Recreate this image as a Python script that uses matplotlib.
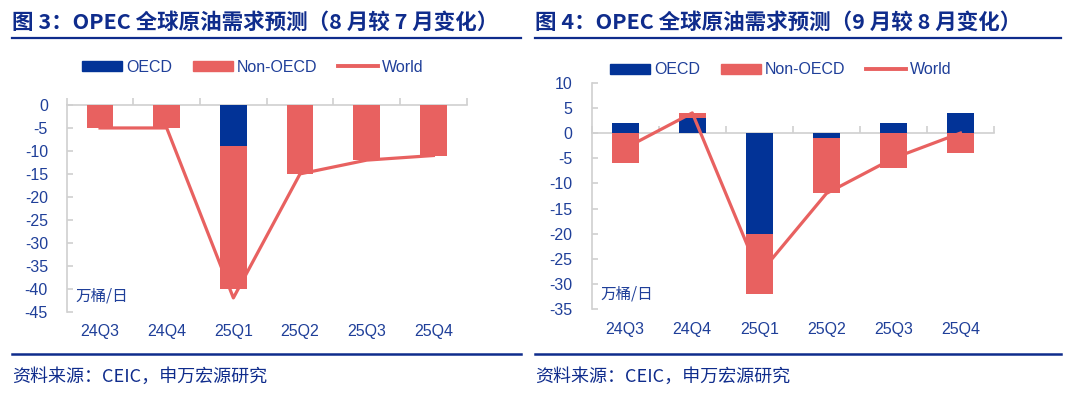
import numpy as np
import matplotlib
matplotlib.use("Agg")
import matplotlib.pyplot as plt
from matplotlib.patches import Patch
from matplotlib.lines import Line2D

plt.rcParams['font.family'] = ['Noto Sans CJK SC', 'DejaVu Sans']

categories = ["24Q3", "24Q4", "25Q1", "25Q2", "25Q3", "25Q4"]

# Figure 3: Aug vs Jul revision
oecd_3 = [0, 0, -9, 0, 0, 0]
non_oecd_3 = [-5, -5, -31, -15, -12, -11]
world_3 = [-5, -5, -42, -15, -12, -11]

# Figure 4: Sep vs Aug revision
oecd_4 = [2, 3, -20, -1, 2, 4]
non_oecd_4 = [-6, 1, -12, -11, -7, -4]
world_4 = [-3, 4, -28, -12, -5, 0]

title_3 = "图 3：OPEC 全球原油需求预测（8 月较 7 月变化）"
title_4 = "图 4：OPEC 全球原油需求预测（9 月较 8 月变化）"
source = "资料来源：CEIC，申万宏源研究"
unit = "万桶/日"

BLUE = "#023397"
RED = "#E86160"
TXT = "#1F3F99"
TITLE = "#0F2C8C"
GRAY = "#D0D0D0"
LATIN = 'Liberation Sans'

W, H = 1080, 398
fig = plt.figure(figsize=(W / 100, H / 100), dpi=100)


def ax_rect(l, t, r, b):
    return [l / W, 1 - b / H, (r - l) / W, (b - t) / H]


def draw(ax, oecd, non, world, ylim, yticks, xpad, ypad, unit_y):
    x = np.arange(len(categories))
    oecd = np.array(oecd, float)
    non = np.array(non, float)
    bottom_non = np.where(np.sign(non) == np.sign(oecd), oecd, 0.0)
    ax.bar(x, oecd, width=0.4, color=BLUE, zorder=2)
    ax.bar(x, non, width=0.4, bottom=bottom_non, color=RED, zorder=2)
    ax.plot(x, world, color=RED, lw=2.3, zorder=3)
    ax.set_xlim(-0.5, len(categories) - 0.5)
    ax.set_ylim(*ylim)
    ax.set_yticks(yticks)
    ax.set_yticklabels([str(v) for v in yticks])
    ax.set_xticks(x)
    ax.set_xticklabels(categories)
    for s in ['top', 'right', 'bottom']:
        ax.spines[s].set_visible(False)
    ax.spines['left'].set_color(GRAY)
    ax.spines['left'].set_linewidth(1.2)
    ax.tick_params(axis='x', length=0, pad=xpad, labelcolor=TXT,
                   labelsize=11.5, labelfontfamily=LATIN)
    ax.tick_params(axis='y', direction='in', length=4, width=1.2, color=GRAY,
                   pad=ypad, labelcolor=TXT, labelsize=11.5, labelfontfamily=LATIN)
    ax.axhline(0, color=GRAY, lw=1.2, zorder=1, clip_on=False)
    bounds = np.arange(len(categories) + 1) - 0.5
    ax.plot(bounds, np.zeros_like(bounds), ls='none', marker=2, ms=5,
            mew=1.2, color=GRAY, clip_on=False, zorder=1)
    ax.set_facecolor('none')
    ax.text(0.021, unit_y, unit, transform=ax.transAxes, color=TXT,
            fontsize=11.2, ha='left', va='center')


ax1 = fig.add_axes(ax_rect(66.7, 105, 466.7, 311.7))
draw(ax1, oecd_3, non_oecd_3, world_3, (-45, 0), list(range(0, -50, -5)),
     9.0, 13.5, 0.076)
ax2 = fig.add_axes(ax_rect(591.7, 82.7, 994, 309.3))
draw(ax2, oecd_4, non_oecd_4, world_4, (-35, 10), list(range(10, -40, -5)),
     9.3, 13.8, 0.066)

handles = [Patch(color=BLUE, label="OECD"), Patch(color=RED, label="Non-OECD"),
           Line2D([], [], color=RED, lw=2.8, label="World")]
for cx, cy in [(253, 67), (781, 70)]:
    fig.legend(handles=handles, loc='center', bbox_to_anchor=(cx / W, 1 - cy / H),
               ncol=3, frameon=False, handlelength=2.5, handleheight=0.55,
               handletextpad=0.25, columnspacing=1.3, labelcolor=TXT,
               borderaxespad=0, borderpad=0,
               prop={'family': LATIN, 'size': 11.5})

for x0, x1, t in [(12, 521, title_3), (535, 1061, title_4)]:
    fig.text(x0 / W, 1 - 22.5 / H, t, color=TITLE, fontsize=15.5, fontweight='bold',
             ha='left', va='center')
    fig.add_artist(Line2D([x0 / W, x1 / W], [1 - 37.5 / H] * 2, color=TITLE, lw=1.6))
    fig.add_artist(Line2D([x0 / W, x1 / W], [1 - 354.3 / H] * 2, color=TITLE, lw=1.8))
    fig.text(x0 / W, 1 - 376.5 / H, source, color=TITLE, fontsize=13,
             ha='left', va='center')

fig.savefig("out.png", dpi=100)
